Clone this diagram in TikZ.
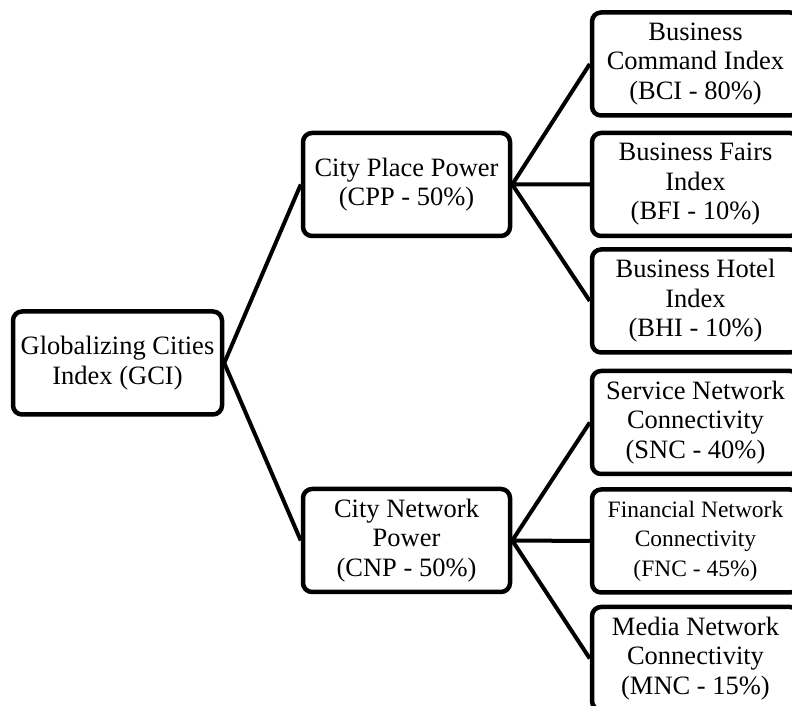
\documentclass[tikz,border=0pt]{standalone}
\usepackage{fontspec}
\setmainfont{Liberation Serif}
\tikzset{
  idx/.style={draw,rounded corners=9pt,line width=4.5pt,minimum width=207pt,
    minimum height=103pt,align=center,inner sep=2pt,
    font=\fontsize{26.5}{29.5}\selectfont},
  link/.style={line width=4pt}
}
\begin{document}
\begin{tikzpicture}[x=1pt,y=1pt]
\useasboundingbox (0,0) rectangle (792,706);
\node[idx,minimum width=209pt] (gci) at (117.5,343) {Globalizing Cities\\Index (GCI)};
\node[idx] (cpp) at (406.5,521.5) {City Place Power\\(CPP - 50\%)};
\node[idx] (cnp) at (406.5,165.5) {City Network\\Power\\(CNP - 50\%)};
\node[idx] (bci) at (695.5,642) {Business\\Command Index\\(BCI - 80\%)};
\node[idx] (bfi) at (695.5,521.5) {Business Fairs\\Index\\(BFI - 10\%)};
\node[idx] (bhi) at (695.5,405) {Business Hotel\\Index\\(BHI - 10\%)};
\node[idx] (snc) at (695.5,283.5) {Service Network\\Connectivity\\(SNC - 40\%)};
\node[idx,font=\fontsize{23.5}{29.5}\selectfont] (fnc) at (695.5,165)
  {Financial Network\\Connectivity\\(FNC - 45\%)};
\node[idx] (mnc) at (695.5,47.5) {Media Network\\Connectivity\\(MNC - 15\%)};
\draw[link] (gci.east) -- (cpp.west) (gci.east) -- (cnp.west);
\draw[link] (cpp.east) -- (bci.west) (cpp.east) -- (bfi.west) (cpp.east) -- (bhi.west);
\draw[link] (cnp.east) -- (snc.west) (cnp.east) -- (fnc.west) (cnp.east) -- (mnc.west);
\end{tikzpicture}
\end{document}
